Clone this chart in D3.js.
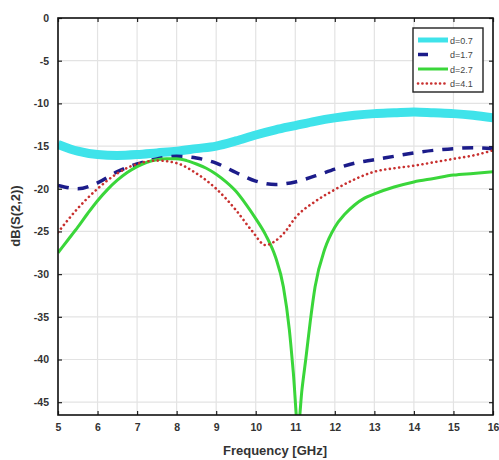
<!DOCTYPE html>
<html><head><meta charset="utf-8">
<script src="https://cdn.jsdelivr.net/npm/d3@7"></script>
<style>body{margin:0;background:#fff;}svg{display:block;font-family:"Liberation Sans",Arial,sans-serif;}</style>
</head><body><svg id="c" width="499" height="460"></svg>
<script>
const xTicks = [5,6,7,8,9,10,11,12,13,14,15,16];
const yTicks = [0,-5,-10,-15,-20,-25,-30,-35,-40,-45];
const seriesNames = ["d=0.7","d=1.7","d=2.7","d=4.1"];

const fCyan = [5,5.5,6,6.5,7,7.5,8,8.5,9,9.5,10,10.5,11,11.5,12,12.5,13,13.5,14,14.5,15,15.5,16];
const vCyan = [-14.8,-15.6,-16.0,-16.1,-16.0,-15.8,-15.6,-15.3,-15.0,-14.4,-13.7,-13.1,-12.6,-12.1,-11.7,-11.4,-11.2,-11.1,-11.0,-11.1,-11.2,-11.4,-11.7];

const fBlue = [5,5.5,6,6.5,7,7.5,8,8.5,9,9.5,10,10.5,11,11.5,12,12.5,13,13.5,14,14.5,15,15.5,16];
const vBlue = [-19.6,-20.0,-19.3,-18.0,-17.1,-16.5,-16.2,-16.4,-17.0,-18.1,-19.1,-19.5,-19.2,-18.5,-17.7,-17.0,-16.6,-16.2,-15.8,-15.5,-15.3,-15.2,-15.3];

const fGreen = [5,5.25,5.5,5.75,6,6.25,6.5,6.75,7,7.25,7.5,7.75,8,8.25,8.5,8.75,9,9.25,9.5,9.75,10,10.25,10.5,10.7,10.85,10.95,11.07,11.17,11.27,11.38,11.5,11.75,12,12.25,12.5,12.75,13,13.5,14,14.5,15,15.5,16];
const vGreen = [-27.5,-26.0,-24.5,-22.9,-21.4,-20.1,-19.0,-18.1,-17.4,-16.9,-16.6,-16.5,-16.5,-16.7,-17.1,-17.6,-18.3,-19.2,-20.3,-21.8,-23.5,-25.4,-28.0,-31.5,-36.5,-41.5,-48.0,-43.5,-39.8,-35.5,-31.5,-27.0,-24.5,-23.0,-21.9,-21.1,-20.6,-19.8,-19.2,-18.8,-18.4,-18.2,-18.0];

const fRed = [5,5.5,6,6.5,7,7.5,8,8.5,9,9.5,9.9,10.25,10.5,10.75,11,11.5,12,12.5,13,13.5,14,14.5,15,15.5,16];
const vRed = [-25.1,-22.3,-20.0,-18.2,-17.1,-16.7,-17.0,-18.2,-20.0,-22.5,-24.9,-26.6,-26.1,-25.0,-23.4,-21.5,-20.1,-18.9,-18.0,-17.6,-17.3,-16.9,-16.5,-16.1,-15.5];

const svg = d3.select("#c");
const L=58, R=493, T=18, B=415;
const x = d3.scaleLinear().domain([5,16]).range([L,R]);
const y = d3.scaleLinear().domain([-46.5,0]).range([B,T]);

svg.append("defs").append("clipPath").attr("id","clip")
  .append("rect").attr("x",L).attr("y",T).attr("width",R-L).attr("height",B-T);

// grid
const g = svg.append("g");
g.selectAll(".gx").data(xTicks).join("line")
  .attr("x1",d=>x(d)).attr("x2",d=>x(d)).attr("y1",T).attr("y2",B)
  .attr("stroke","#e3e3e3").attr("stroke-width",1.2);
g.selectAll(".gy").data(yTicks).join("line")
  .attr("x1",L).attr("x2",R).attr("y1",d=>y(d)).attr("y2",d=>y(d))
  .attr("stroke","#e3e3e3").attr("stroke-width",1.2);

// axes
const fmt = d=>String(d);
const xAxB = d3.axisBottom(x).tickValues(xTicks).tickSize(-4).tickPadding(9).tickFormat(fmt);
const xAxT = d3.axisTop(x).tickValues(xTicks).tickSize(-4).tickFormat("");
const yAxL = d3.axisLeft(y).tickValues(yTicks).tickSize(-4).tickPadding(9).tickFormat(fmt);
const yAxR = d3.axisRight(y).tickValues(yTicks).tickSize(-4).tickFormat("");

function style(sel){
  sel.select(".domain").remove();
  sel.selectAll("line").attr("stroke","#222").attr("stroke-width",1.2);
  sel.selectAll("text").attr("fill","#333").attr("font-size",10.5).attr("font-weight","bold");
}
svg.append("g").attr("transform",`translate(0,${B})`).call(xAxB).call(style);
svg.append("g").attr("transform",`translate(0,${T})`).call(xAxT).call(style);
svg.append("g").attr("transform",`translate(${L},0)`).call(yAxL).call(style);
svg.append("g").attr("transform",`translate(${R},0)`).call(yAxR).call(style);

// lines
const line = d3.line().x(d=>x(d[0])).y(d=>y(d[1])).curve(d3.curveMonotoneX);
const zip = (a,b)=>a.map((v,i)=>[v,b[i]]);
const plot = svg.append("g").attr("clip-path","url(#clip)");
const specs = [
  {data:zip(fCyan,vCyan), color:"#3fe3ea", w:9, dash:null, cap:"butt"},
  {data:zip(fBlue,vBlue), color:"#1c1c8a", w:3.5, dash:"11,9", cap:"butt"},
  {data:zip(fGreen,vGreen), color:"#3ad63a", w:3, dash:null, cap:"butt"},
  {data:zip(fRed,vRed), color:"#c8302f", w:2.6, dash:"0.1,4.6", cap:"round"}
];
specs.forEach(s=>{
  plot.append("path").datum(s.data).attr("d",line).attr("fill","none")
    .attr("stroke",s.color).attr("stroke-width",s.w)
    .attr("stroke-dasharray",s.dash).attr("stroke-linecap",s.cap);
});

// frame
svg.append("rect").attr("x",L).attr("y",T).attr("width",R-L).attr("height",B-T)
  .attr("fill","none").attr("stroke","#111").attr("stroke-width",1.6);

// legend
const lg = svg.append("g");
lg.append("rect").attr("x",413).attr("y",28).attr("width",70).attr("height",64)
  .attr("fill","#fff").attr("stroke","#222").attr("stroke-width",1.4);
seriesNames.forEach((n,i)=>{
  const yy = 40 + i*14.5;
  const s = specs[i];
  lg.append("line").attr("x1",418).attr("x2",448).attr("y1",yy).attr("y2",yy)
    .attr("stroke",s.color).attr("stroke-width",i===0?5:s.w)
    .attr("stroke-dasharray",i===1?"10,20":(i===3?"0.1,4.3":null))
    .attr("stroke-linecap",s.cap);
  lg.append("text").attr("x",450).attr("y",yy+3.5).attr("font-size",9)
    .attr("fill","#444").text(n);
});

// axis titles
svg.append("text").attr("x",275).attr("y",455).attr("text-anchor","middle")
  .attr("font-size",13).attr("font-weight","bold").attr("fill","#333").text("Frequency [GHz]");
svg.append("text").attr("transform","translate(20,216) rotate(-90)").attr("text-anchor","middle")
  .attr("font-size",13).attr("font-weight","bold").attr("fill","#333").text("dB(S(2,2))");
</script></body></html>
